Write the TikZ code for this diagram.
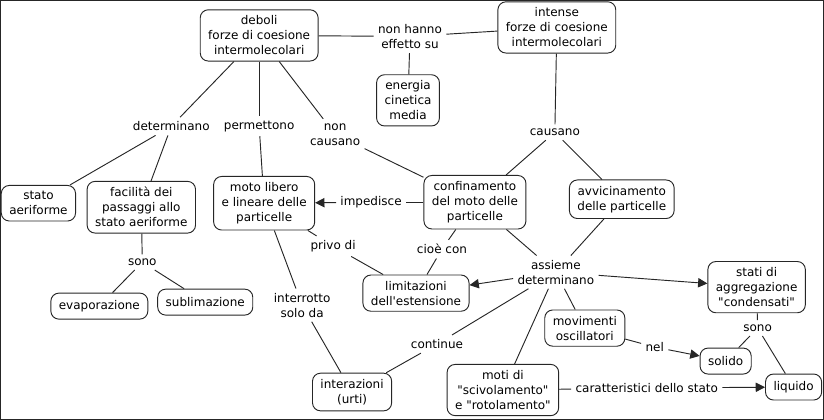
\documentclass[tikz,border=0pt]{standalone}
\usepackage{fontspec}
\setmainfont{DejaVu Sans}[Ligatures=TeXOff]
\usetikzlibrary{arrows.meta}

\begin{document}
\begin{tikzpicture}[x=0.75pt,y=-0.75pt]
\tikzset{concetto/.style={draw, rounded corners=6pt, fill=white, align=center, inner xsep=6pt, inner ysep=4.5pt, minimum height=19.5pt, font=\fontsize{9}{11.25}\selectfont}}
\tikzset{legame/.style={align=center, inner sep=3pt, font=\fontsize{9}{11.25}\selectfont}}
\tikzset{freccia/.style={-{Triangle[length=7pt,width=7pt]}}}
\tikzset{every path/.style={line width=0.7pt, draw=black!85}}
\useasboundingbox (0,0) rectangle (824,419);
\node[concetto] (C1) at (259,35) {deboli\\forze di coesione\\intermolecolari};
\node[concetto] (C2) at (557,27) {intense\\forze di coesione\\intermolecolari};
\node[concetto] (C3) at (408,100) {energia\\cinetica\\media};
\node[concetto] (C4) at (38,203) {stato\\aeriforme};
\node[concetto] (C5) at (141,207) {facilità dei\\passaggi allo\\stato aeriforme};
\node[concetto] (C6) at (264,203) {moto libero\\e lineare delle\\particelle};
\node[concetto] (C7) at (475,202) {confinamento\\del moto delle\\particelle};
\node[concetto] (C8) at (622,199) {avvicinamento\\delle particelle};
\node[concetto] (C9) at (99,306) {evaporazione};
\node[concetto] (C10) at (205,302) {sublimazione};
\node[concetto] (C11) at (416,293) {limitazioni\\dell'estensione};
\node[concetto] (C12) at (352,392) {interazioni\\(urti)};
\node[concetto] (C13) at (585,328) {movimenti\\oscillatori};
\node[concetto] (C14) at (757,287) {stati di\\aggregazione\\"condensati"};
\node[concetto] (C15) at (726,361) {solido};
\node[concetto] (C16) at (794,387) {liquido};
\node[concetto] (C17) at (503,390) {moti di\\"scivolamento"\\e "rotolamento"};
\node[legame] (L1) at (410,36) {non hanno\\effetto su};
\node[legame] (L2) at (171,126) {determinano};
\node[legame] (L3) at (259,126) {permettono};
\node[legame] (L4) at (335,134) {non\\causano};
\node[legame] (L5) at (555,132) {causano};
\node[legame] (L6) at (371,202) {impedisce};
\node[legame] (L7) at (333,246) {privo di};
\node[legame] (L8) at (442,249) {cioè con};
\node[legame] (L9) at (142,262) {sono};
\node[legame] (L10) at (302,305) {interrotto\\solo da};
\node[legame] (L11) at (556,272) {assieme\\determinano};
\node[legame] (L12) at (437,344) {continue};
\node[legame] (L13) at (655,347) {nel};
\node[legame] (L14) at (758,328) {sono};
\node[legame] (L15) at (647,388) {caratteristici dello stato};
\draw (C1) -- (L1);
\draw (C2) -- (L1);
\draw (L1) -- (C3);
\draw (C1) -- (L2);
\draw (L2) -- (C4);
\draw (L2) -- (C5);
\draw (C1) -- (L3);
\draw (L3) -- (C6);
\draw (C1) -- (L4);
\draw (L4) -- (C7);
\draw (C2) -- (L5);
\draw (L5) -- (C7);
\draw (L5) -- (C8);
\draw (C7) -- (L6);
\draw[freccia] (L6) -- (C6);
\draw (C6) -- (L7);
\draw (L7) -- (C11);
\draw (C7) -- (L8);
\draw (L8) -- (C11);
\draw (C5) -- (L9);
\draw (L9) -- (C9);
\draw (L9) -- (C10);
\draw (C6) -- (L10);
\draw (L10) -- (C12);
\draw (C7) -- (L11);
\draw (C8) -- (L11);
\draw[freccia] (L11) -- (C11);
\draw[freccia] (L11) -- (C14);
\draw (L11) -- (C13);
\draw (L11) -- (C17);
\draw (L11) -- (L12);
\draw (L12) -- (C12);
\draw (C13) -- (L13);
\draw[freccia] (L13) -- (C15);
\draw (C14) -- (L14);
\draw (L14) -- (C15);
\draw (L14) -- (C16);
\draw (C17) -- (L15);
\draw[freccia] (L15) -- (C16);
\end{tikzpicture}
\end{document}
